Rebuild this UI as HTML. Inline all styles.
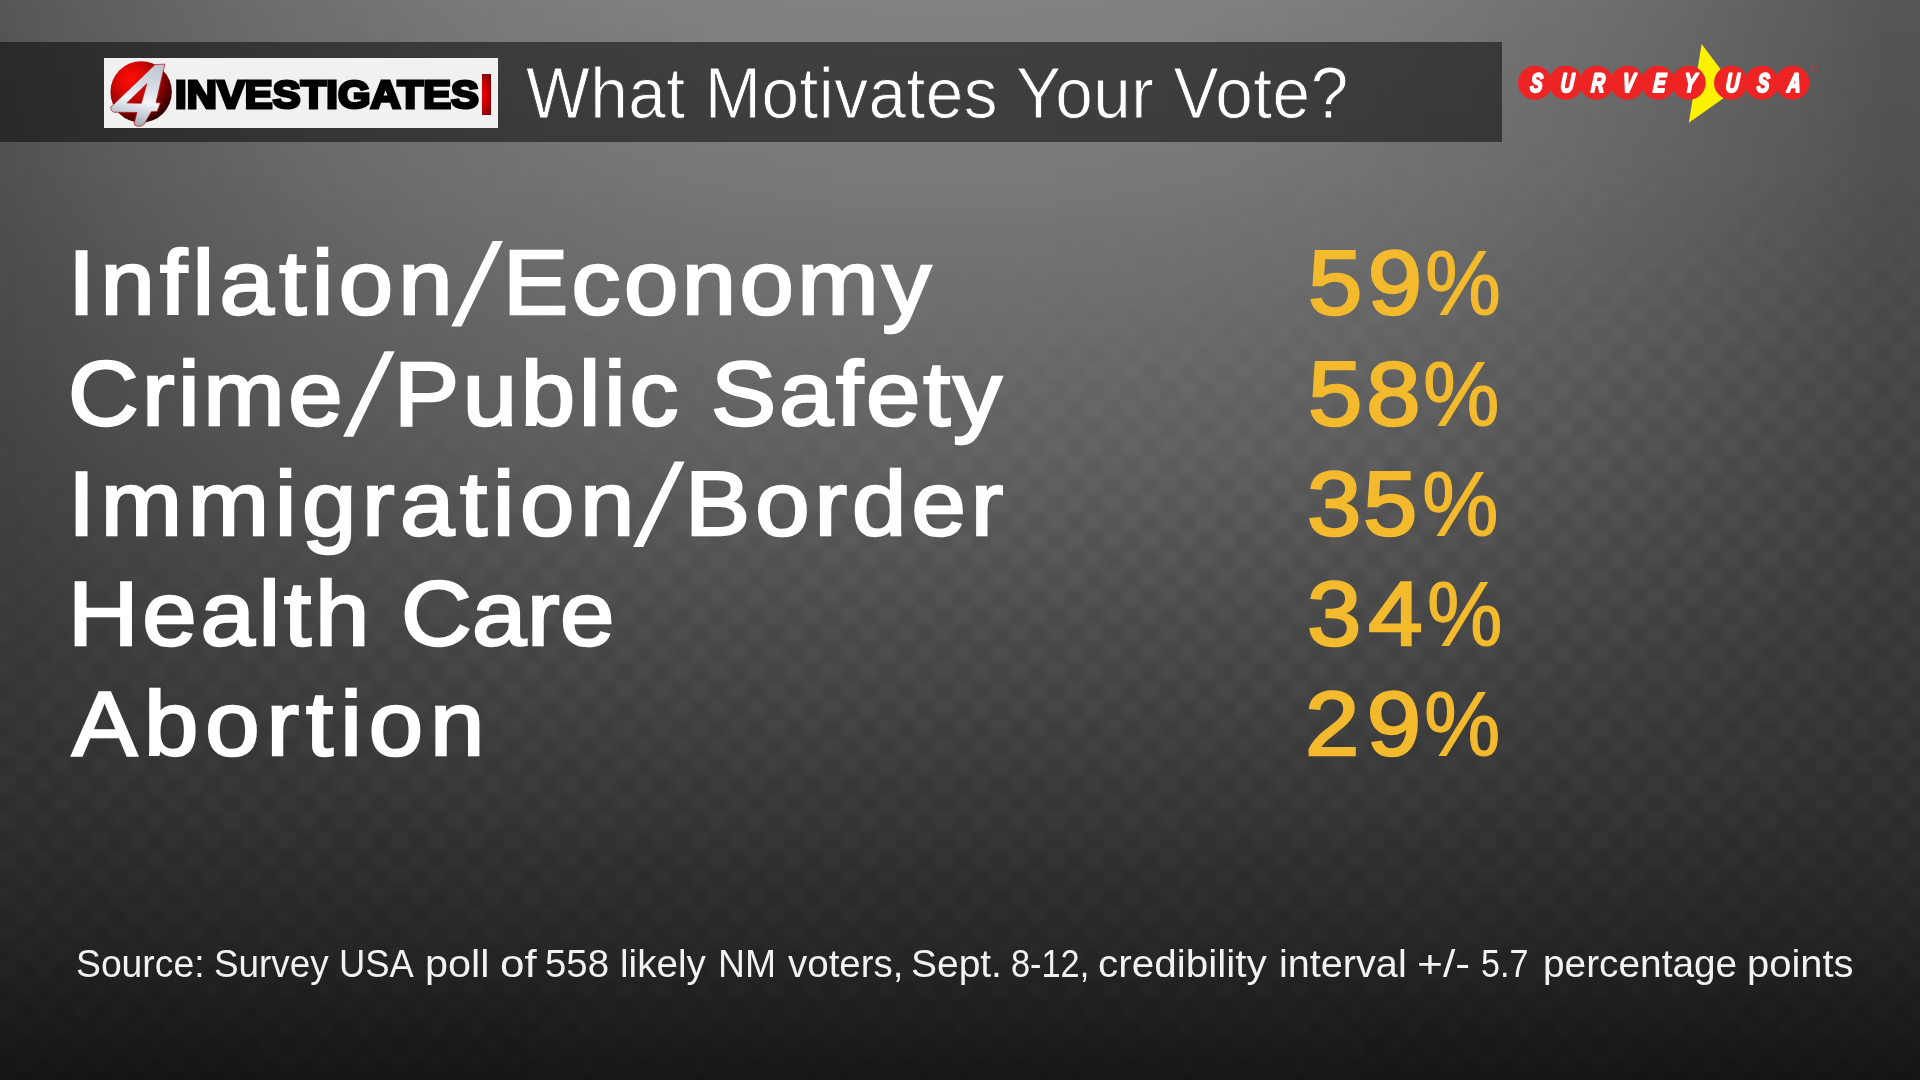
<!DOCTYPE html>
<html lang="en">
<head>
<meta charset="utf-8">
<title>What Motivates Your Vote?</title>
<style>
  html, body { margin: 0; padding: 0; }
  body {
    width: 1920px; height: 1080px; overflow: hidden; position: relative;
    font-family: "Liberation Sans", sans-serif;
    background: #1a1a1a;
  }
  .bg {
    position: absolute; left: 0; top: 0; width: 1920px; height: 1080px;
    background: linear-gradient(to bottom,
      rgb(86,86,86) 0px, rgb(85,85,85) 20px, rgb(81,81,81) 167px, rgb(67,67,67) 450px,
      rgb(58,58,58) 620px, rgb(48,48,48) 798px, rgb(37,37,37) 930px, rgb(23,23,23) 1057px, rgb(20,20,20) 1080px);
  }
  .glow {
    position: absolute; left: 0; top: 0; width: 1920px; height: 1080px;
    background: linear-gradient(to bottom,
      rgba(255,255,255,0.2658) 0px, rgba(255,255,255,0.2643) 20px, rgba(255,255,255,0.2342) 167px,
      rgba(255,255,255,0.1640) 450px, rgba(255,255,255,0.0983) 620px, rgba(255,255,255,0.0415) 799px,
      rgba(255,255,255,0.0191) 930px, rgba(255,255,255,0.0135) 1057px, rgba(255,255,255,0.0134) 1080px);
    -webkit-mask-image: linear-gradient(to right,
      rgba(0,0,0,0.0000) 0px, rgba(0,0,0,0.2283) 105px, rgba(0,0,0,0.4247) 210px, rgba(0,0,0,0.5902) 315px, rgba(0,0,0,0.7256) 420px, rgba(0,0,0,0.8320) 525px, rgba(0,0,0,0.9108) 630px, rgba(0,0,0,0.9634) 735px, rgba(0,0,0,0.9920) 840px, rgba(0,0,0,1.0000) 945px, rgba(0,0,0,0.9920) 1050px, rgba(0,0,0,0.9634) 1155px, rgba(0,0,0,0.9108) 1260px, rgba(0,0,0,0.8320) 1365px, rgba(0,0,0,0.7256) 1470px, rgba(0,0,0,0.5902) 1575px, rgba(0,0,0,0.4247) 1680px, rgba(0,0,0,0.2283) 1785px, rgba(0,0,0,0.0000) 1890px, rgba(0,0,0,0) 1920px);
    mask-image: linear-gradient(to right,
      rgba(0,0,0,0.0000) 0px, rgba(0,0,0,0.2283) 105px, rgba(0,0,0,0.4247) 210px, rgba(0,0,0,0.5902) 315px, rgba(0,0,0,0.7256) 420px, rgba(0,0,0,0.8320) 525px, rgba(0,0,0,0.9108) 630px, rgba(0,0,0,0.9634) 735px, rgba(0,0,0,0.9920) 840px, rgba(0,0,0,1.0000) 945px, rgba(0,0,0,0.9920) 1050px, rgba(0,0,0,0.9634) 1155px, rgba(0,0,0,0.9108) 1260px, rgba(0,0,0,0.8320) 1365px, rgba(0,0,0,0.7256) 1470px, rgba(0,0,0,0.5902) 1575px, rgba(0,0,0,0.4247) 1680px, rgba(0,0,0,0.2283) 1785px, rgba(0,0,0,0.0000) 1890px, rgba(0,0,0,0) 1920px);
  }
  .chk {
    position: absolute; left: -20px; top: -20px; width: 1960px; height: 1120px;
    background: conic-gradient(rgb(134,134,134) 90deg, rgb(121,121,121) 90deg 180deg, rgb(134,134,134) 180deg 270deg, rgb(121,121,121) 270deg);
    mix-blend-mode: overlay;
    background-size: 37.5px 37.5px;
    background-position: 54.6px 26.25px;
    filter: blur(3.2px);
    -webkit-mask-image: linear-gradient(170deg, rgba(0,0,0,0.03) 25.5%, rgba(0,0,0,0.1) 32.3%, rgba(0,0,0,0.3) 39.1%, rgba(0,0,0,0.65) 46%, rgba(0,0,0,0.9) 52.8%, #000 59.6%);
    mask-image: linear-gradient(170deg, rgba(0,0,0,0.03) 25.5%, rgba(0,0,0,0.1) 32.3%, rgba(0,0,0,0.3) 39.1%, rgba(0,0,0,0.65) 46%, rgba(0,0,0,0.9) 52.8%, #000 59.6%);
  }
  .bar {
    position: absolute; left: 0; top: 42px; width: 1502.3px; height: 99.6px;
    background: rgba(0,0,0,0.5);
  }
  .logo {
    position: absolute; left: 104px; top: 57.9px; width: 393.9px; height: 70.4px;
    background: #f1f1f1;
  }
  .t {
    position: absolute; white-space: nowrap; line-height: 0; margin: -0.3465em 0 0 0;
    transform-origin: 0 0;
  }
  .title {
    left: 526.40px; top: 118.2px; font-size: 71.8px; color: #fff;
    -webkit-text-stroke: 0.9px #3c3c3c;
    transform: scaleX(0.94);
    letter-spacing: 0.523px;
  }
  .row {
    left: 75px; font-size: 91.3px; color: #fff;
    -webkit-text-stroke: 2.5px #fff;
    transform: scaleX(1.07);
    letter-spacing: 3px;
  }
  .sl {
    position: absolute; width: 51.6px; height: 85.5px; background: #fff; color: transparent;
    font-size: 10px; line-height: 85.5px; text-align: center; overflow: hidden;
    -webkit-clip-path: polygon(41.4px 0, 51.6px 0, 10.2px 85.5px, 0 85.5px);
    clip-path: polygon(41.4px 0, 51.6px 0, 10.2px 85.5px, 0 85.5px);
  }
  .pct {
    left: 1310px; font-size: 91.3px; color: #f3ba2e;
    -webkit-text-stroke: 2.5px #f3ba2e;
    transform: scaleX(1.07);
  }
  .pc {
    left: 1428px; font-size: 91.3px; color: #f3ba2e;
    -webkit-text-stroke: 1.2px #f3ba2e;
    transform: scaleX(0.92);
  }
  .sw { top: 977.5px; font-size: 39px; color: #f2f2f2; }
  .src {
    left: 76.20px; top: 977.5px; font-size: 39px; color: #eeeeee;
    transform: scaleX(0.9891);
    letter-spacing: 0px;
  }
  .gfx { position: absolute; left: 0; top: 0; width: 1920px; height: 1080px; overflow: visible; }
  .inv {
    left: 175.3px; top: 108.1px; font-size: 39.1px; font-weight: bold; color: #000;
    -webkit-text-stroke: 3px #000;
    transform: scaleX(1.066);
    letter-spacing: 0.119px;
  }
  .redbar {
    position: absolute; left: 482.2px; top: 73.5px; width: 8.8px; height: 41.2px;
    background: radial-gradient(ellipse 9px 24px at 2px 50%, #f00000 0%, #c80000 45%, #7d0808 100%);
  }
</style>
</head>
<body>
<div class="bg"></div>
<div class="glow"></div>
<div class="chk"></div>
<div class="bar"></div>
<div class="logo"></div>
<svg class="gfx" viewBox="0 0 1920 1080">
  <defs>
    <radialGradient id="sph" cx="131" cy="79" r="46" gradientUnits="userSpaceOnUse">
      <stop offset="0" stop-color="#ff0d06"/>
      <stop offset="0.3" stop-color="#dd0805"/>
      <stop offset="0.62" stop-color="#970403"/>
      <stop offset="0.85" stop-color="#5a0000"/>
      <stop offset="1" stop-color="#2e0000"/>
    </radialGradient>
    <linearGradient id="slv" x1="150" y1="64" x2="135" y2="126" gradientUnits="userSpaceOnUse">
      <stop offset="0" stop-color="#c0c7d1"/>
      <stop offset="0.35" stop-color="#d6dce4"/>
      <stop offset="0.6" stop-color="#f3f6fa"/>
      <stop offset="0.75" stop-color="#d2d8e0"/>
      <stop offset="1" stop-color="#a0a8b3"/>
    </linearGradient>
  </defs>
  <circle cx="141.15" cy="91.95" r="30.7" fill="url(#sph)"/>
  <path d="M155.0 64.6 L164.9 64.1 L156.1 102.6 L160.5 102.9 L157.1 111.5 L151.3 111.8 L144.3 124.0 Q141.5 127.0 137.5 126.3 Q133.6 125.6 134.2 123.0 L136.9 112.5 L114.2 112.2 Q110.3 111.2 110.9 107.0 Z M146.8 83.7 L126.9 102.9 L141.3 103.3 Z"
        fill="url(#slv)" fill-rule="evenodd" stroke="#c40a0a" stroke-width="0.7" stroke-linejoin="round"/>
  <g id="susa">
    <polygon points="1701.6,44.0 1735.8,89.6 1688.8,122.8" fill="#fff200"/>
    <g fill="#ee2424">
      <circle cx="1535" cy="82.7" r="17.05"/><circle cx="1565.75" cy="82.7" r="17.05"/><circle cx="1596.5" cy="82.7" r="17.05"/>
      <circle cx="1627.25" cy="82.7" r="17.05"/><circle cx="1658" cy="82.7" r="17.05"/><circle cx="1688.75" cy="82.7" r="17.05"/>
      <circle cx="1731" cy="82.7" r="17.05"/><circle cx="1761.75" cy="82.7" r="17.05"/><circle cx="1792.5" cy="82.7" r="17.05"/>
    </g>
    <circle cx="1814.5" cy="69.2" r="2.8" fill="none" stroke="#e03030" stroke-width="0.7"/>
    <g font-family="Liberation Sans, sans-serif" font-weight="bold" font-style="italic" font-size="26.8" text-anchor="middle" fill="#ffffff" stroke="#ffffff" stroke-width="2" stroke-linejoin="round">
      <text transform="translate(1536.10 91.7) scale(0.7 1) skewX(-6)">S</text>
      <text transform="translate(1566.85 91.7) scale(0.7 1) skewX(-6)">U</text>
      <text transform="translate(1597.60 91.7) scale(0.7 1) skewX(-6)">R</text>
      <text transform="translate(1628.35 91.7) scale(0.7 1) skewX(-6)">V</text>
      <text transform="translate(1659.10 91.7) scale(0.7 1) skewX(-6)">E</text>
      <text transform="translate(1689.85 91.7) scale(0.7 1) skewX(-6)">Y</text>
      <text transform="translate(1732.10 91.7) scale(0.7 1) skewX(-6)">U</text>
      <text transform="translate(1762.85 91.7) scale(0.7 1) skewX(-6)">S</text>
      <text transform="translate(1793.60 91.7) scale(0.7 1) skewX(-6)">A</text>
    </g>
  </g>
</svg>
<div class="t inv">INVESTIGATES</div>
<div class="redbar"></div>

<div class="t title">What Motivates Your Vote?</div>


<div class="t row" id="seg1" style="top:314.0px;left:67.75px;letter-spacing:4.97px">Inflation</div><div class="sl" style="left:451.25px;top:241.00px">/</div><div class="t row" id="seg2" style="top:314.0px;left:502.96px;letter-spacing:3.24px">Economy</div>
<div class="t row" id="seg3" style="top:424.2px;left:68.27px;letter-spacing:3.28px">Crime</div><div class="sl" style="left:343.10px;top:351.20px">/</div><div class="t row" id="seg4" style="top:424.2px;left:394.46px;letter-spacing:3.41px">Public </div><div class="t row" id="seg5" style="top:424.2px;left:711.49px;letter-spacing:2.61px">Safety</div>
<div class="t row" id="seg6" style="top:534.4px;left:67.75px;letter-spacing:5.23px">Immigration</div><div class="sl" style="left:633.10px;top:461.40px">/</div><div class="t row" id="seg7" style="top:534.4px;left:684.96px;letter-spacing:4.69px">Border</div>
<div class="t row" id="seg8" style="top:644.8px;left:68.16px;letter-spacing:3.53px">Health </div><div class="t row" id="seg9" style="top:644.8px;left:400.56px;letter-spacing:0.50px">Care</div>
<div class="t row" id="seg10" style="top:755.0px;left:72.20px;letter-spacing:6.48px">Abortion</div>
<div class="t pct" style="top:314.0px;left:1307.52px;letter-spacing:5.12px">59</div><div class="t pc" style="top:314.0px;left:1425.08px;transform:scaleX(0.9358)">%</div>
<div class="t pct" style="top:424.2px;left:1307.52px;letter-spacing:3.74px">58</div><div class="t pc" style="top:424.2px;left:1423.00px;transform:scaleX(0.9422)">%</div>
<div class="t pct" style="top:534.4px;left:1307.13px;letter-spacing:1.65px">35</div><div class="t pc" style="top:534.4px;left:1421.50px;transform:scaleX(0.9422)">%</div>
<div class="t pct" style="top:644.8px;left:1307.13px;letter-spacing:6.42px">34</div><div class="t pc" style="top:644.8px;left:1427.00px;transform:scaleX(0.9303)">%</div>
<div class="t pct" style="top:755.0px;left:1304.75px;letter-spacing:6.96px">29</div><div class="t pc" style="top:755.0px;left:1424.00px;transform:scaleX(0.9407)">%</div>

<div class="t sw" id="w1" style="left:76.09px;transform:scaleX(0.9563)">Source: </div><div class="t sw" id="w2" style="left:214.42px;transform:scaleX(0.9451)">Survey </div><div class="t sw" id="w3" style="left:339.31px;transform:scaleX(0.9335)">USA </div><div class="t sw" id="w4" style="left:425.13px;transform:scaleX(1.0605)">poll </div><div class="t sw" id="w5" style="left:499.98px;transform:scaleX(1.1270)">of </div><div class="t sw" id="w6" style="left:545.49px;transform:scaleX(0.9831)">558 </div><div class="t sw" id="w7" style="left:620.40px;transform:scaleX(0.9897)">likely </div><div class="t sw" id="w8" style="left:718.25px;transform:scaleX(0.9562)">NM </div><div class="t sw" id="w9" style="left:787.51px;transform:scaleX(0.9867)">voters, </div><div class="t sw" id="w10" style="left:911.41px;transform:scaleX(0.9986)">Sept. </div><div class="t sw" id="w11" style="left:1010.64px;transform:scaleX(0.8803)">8-12, </div><div class="t sw" id="w12" style="left:1098.34px;transform:scaleX(1.0378)">credibility </div><div class="t sw" id="w13" style="left:1279.26px;transform:scaleX(1.0158)">interval </div><div class="t sw" id="w14" style="left:1416.94px;transform:scaleX(1.1389)">+/- </div><div class="t sw" id="w15" style="left:1481.40px;transform:scaleX(0.8728)">5.7 </div><div class="t sw" id="w16" style="left:1542.50px;transform:scaleX(0.9949)">percentage </div><div class="t sw" id="w17" style="left:1746.86px;transform:scaleX(1.0231)">points</div>
</body>
</html>
